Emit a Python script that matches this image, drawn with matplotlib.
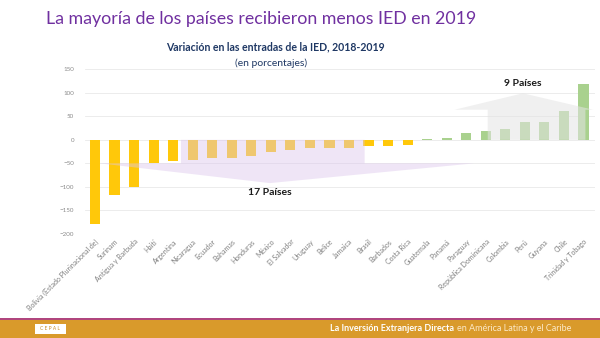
import matplotlib
matplotlib.use("Agg")
import matplotlib.pyplot as plt
from matplotlib.patches import Polygon, Rectangle

plt.rcParams['font.family'] = ['Lato', 'DejaVu Sans']

# Variación en las entradas de IED 2018-2019 (%)
paises = ['Bolivia (Estado Plurinacional de)', 'Surinam', 'Antigua y Barbuda', 'Haití',
          'Argentina', 'Nicaragua', 'Ecuador', 'Bahamas', 'Honduras', 'México',
          'El Salvador', 'Uruguay', 'Belice', 'Jamaica', 'Brasil', 'Barbados',
          'Costa Rica', 'Guatemala', 'Panamá', 'Paraguay', 'República Dominicana',
          'Colombia', 'Perú', 'Guyana', 'Chile', 'Trinidad y Tobago']
variacion = [-179, -118, -101, -50, -46, -43, -38, -38, -34, -25,
             -22, -18, -17, -17, -13, -13, -11, 1, 3, 14,
             18, 24, 37, 37, 62, 118]
yticks = [-200, -150, -100, -50, 0, 50, 100, 150]

amarillo = '#FFC80A'
verde = '#A9D18E'
morado = '#7030A0'
navy = '#1F3864'

fig = plt.figure(figsize=(6, 3.38), dpi=100)
ax = fig.add_axes([0.142, 0.308, 0.85, 0.487])

x = list(range(len(paises)))
colores = [amarillo if v < 0 else verde for v in variacion]
ax.bar(x, variacion, width=0.52, color=colores, zorder=2)

ax.set_xlim(-0.5, 25.6)
ax.set_ylim(-200, 150)
ax.set_yticks(yticks)
ax.tick_params(axis='y', length=0, labelsize=4.5, labelcolor='#8C8C8C', pad=8)
ax.set_xticks(x)
ax.set_xticklabels(paises, rotation=45, ha='right', rotation_mode='anchor',
                   fontsize=5, color='#808080')
ax.tick_params(axis='x', length=0, pad=3)
ax.grid(axis='y', color='#E9E9E9', lw=0.6, zorder=0)
for s in ax.spines.values():
    s.set_visible(False)

# flecha morada (17 países con caída)
flecha_baja = Polygon([(4.4, 0), (13.8, 0), (13.8, -50), (19.4, -50), (8.95, -92),
                       (0.25, -50), (4.4, -50)], closed=True,
                      facecolor='#DCC6EC', edgecolor='none', alpha=0.45, zorder=3)
ax.add_patch(flecha_baja)
ax.text(8.95, -113, '17 Países', ha='center', va='center', fontsize=7.5,
        fontweight='bold', color='#1a1a1a', zorder=4)

# flecha gris (9 países con aumento)
flecha_alta = Polygon([(20.1, 0), (25.1, 0), (25.1, 64), (25.5, 64), (21.9, 99),
                       (18.4, 64), (20.1, 64)], closed=True,
                      facecolor='#E4E4E4', edgecolor='none', alpha=0.55, zorder=3)
ax.add_patch(flecha_alta)
ax.text(21.9, 120, '9 Países', ha='center', va='center', fontsize=7.5,
        fontweight='bold', color='#1a1a1a', zorder=4)

# títulos
fig.text(0.435, 0.945, 'La mayoría de los países recibieron menos IED en 2019',
         ha='center', va='center', fontsize=12.8, color=morado)
fig.text(0.459, 0.86, 'Variación en las entradas de la IED, 2018-2019',
         ha='center', va='center', fontsize=7.6, fontweight='bold', color=navy)
fig.text(0.452, 0.812, '(en porcentajes)', ha='center', va='center',
         fontsize=7.5, color=navy)

# pie de página
fig.patches.append(Rectangle((0, 0), 1, 0.052, transform=fig.transFigure,
                             facecolor='#D99A2B', edgecolor='none'))
fig.patches.append(Rectangle((0, 0.052), 1, 0.006, transform=fig.transFigure,
                             facecolor='#B0467E', edgecolor='none'))
fig.patches.append(Rectangle((0.058, 0.012), 0.052, 0.03, transform=fig.transFigure,
                             facecolor='white', edgecolor='none'))
fig.text(0.084, 0.027, 'C E P A L', ha='center', va='center', fontsize=3.5,
         color='#C8902A')
fig.text(0.757, 0.027, 'La Inversión Extranjera Directa', ha='right', va='center',
         fontsize=6.5, fontweight='bold', color='white')
fig.text(0.761, 0.027, 'en América Latina y el Caribe', ha='left', va='center',
         fontsize=6.5, color='#FCE9C8')

fig.savefig('out.png', dpi=100)
